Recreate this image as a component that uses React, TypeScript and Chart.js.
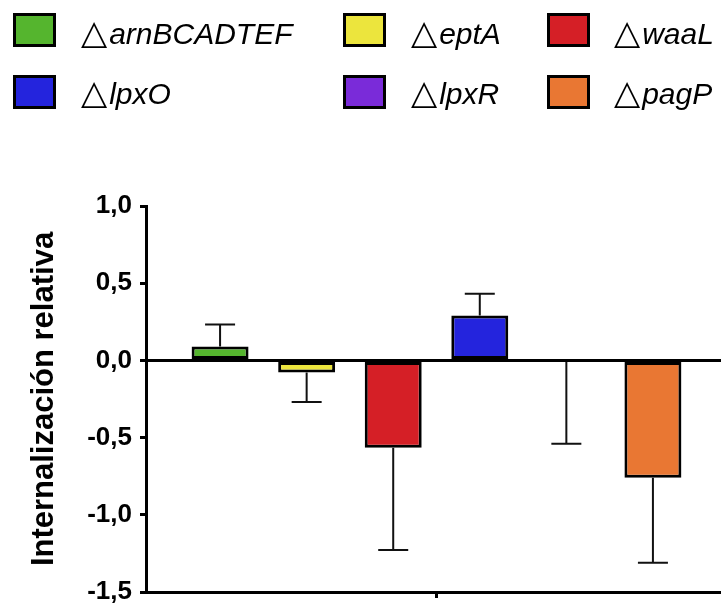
import React, { useEffect, useRef } from 'react';
import { Chart, registerables } from 'chart.js';

Chart.register(...registerables);

// ---- data ----
const categories = [''];
const strains = ['arnBCADTEF', 'eptA', 'waaL', 'lpxO', 'lpxR', 'pagP'];
const means = [0.09, -0.078, -0.565, 0.29, -0.01, -0.76];
const errors = [0.143, 0.192, 0.663, 0.141, 0.53, 0.55];
const colors = ['#55b52e', '#ece53d', '#d51f26', '#2424dd', '#7a2bd9', '#e97733'];
const yMin = -1.5;
const yMax = 1.0;
const yStep = 0.5;
const yTitle = 'Internalización relativa';

const FONT = '"Liberation Sans", Arial, Helvetica, sans-serif';

const fmt = (v: number) => {
  const n = Math.abs(v) < 1e-9 ? 0 : v;
  return n.toFixed(1).replace('.', ',');
};

const errorBarPlugin = {
  id: 'errorBars',
  afterDatasetsDraw(chart: any) {
    const ctx = chart.ctx;
    const y = chart.scales.y;
    ctx.save();
    ctx.strokeStyle = '#111';
    ctx.lineWidth = 2;
    chart.data.datasets.forEach((ds: any, i: number) => {
      const meta = chart.getDatasetMeta(i);
      const el = meta.data[0];
      if (!el) return;
      const m = means[i];
      const e = errors[i];
      const end = m >= 0 ? m + e : m - e;
      const y0 = y.getPixelForValue(m);
      const y1 = y.getPixelForValue(end);
      const x = el.x;
      ctx.beginPath();
      ctx.moveTo(x, y0);
      ctx.lineTo(x, y1);
      ctx.moveTo(x - 15, y1);
      ctx.lineTo(x + 15, y1);
      ctx.stroke();
    });
    ctx.restore();
  },
};

const legendCols = [
  { box: 13, text: 81 },
  { box: 343, text: 411 },
  { box: 547, text: 614 },
];
const legendRows = [
  { box: 13, text: 15 },
  { box: 75, text: 75 },
];

const CANVAS_H = 680;

export default function App() {
  const ref = useRef<HTMLCanvasElement | null>(null);

  useEffect(() => {
    if (!ref.current) return;
    const chart = new Chart(ref.current, {
      type: 'bar',
      data: {
        labels: categories,
        datasets: strains.map((s, i) => ({
          label: s,
          data: [means[i]],
          backgroundColor: colors[i],
          borderColor: '#000',
          borderWidth: 3,
          borderSkipped: false,
          categoryPercentage: 0.894,
          barPercentage: 0.658,
        })),
      },
      options: {
        responsive: false,
        animation: false,
        devicePixelRatio: 1,
        layout: { padding: { top: 206, left: 0, right: 13, bottom: CANVAS_H - 592 - 13 } },
        plugins: {
          legend: { display: false },
          tooltip: { enabled: false },
        },
        scales: {
          x: {
            offset: true,
            grid: {
              offset: false,
              drawOnChartArea: false,
              drawTicks: true,
              tickLength: 6,
              tickWidth: 3,
              tickColor: '#000',
            },
            border: { display: true, color: '#000', width: 3 },
            ticks: { display: false },
            afterFit(axis: any) {
              axis.height = 13;
            },
          },
          y: {
            min: yMin,
            max: yMax,
            ticks: {
              stepSize: yStep,
              color: '#000',
              padding: 8,
              font: { family: FONT, size: 26, weight: 'bold' },
              callback: (v: any) => fmt(Number(v)),
            },
            grid: {
              drawOnChartArea: true,
              drawTicks: true,
              tickLength: 6,
              tickWidth: 3,
              tickColor: '#000',
              lineWidth: 3,
              color: (c: any) => (c.tick && Math.abs(c.tick.value) < 1e-9 ? '#000' : 'rgba(0,0,0,0)'),
            },
            border: { display: true, color: '#000', width: 3 },
            title: {
              display: true,
              text: yTitle,
              color: '#000',
              font: { family: FONT, size: 31, weight: 'bold' },
              padding: { top: 26, bottom: 0 },
            },
            afterFit(axis: any) {
              axis.width = 146;
            },
          },
        },
      },
      plugins: [errorBarPlugin],
    });
    return () => chart.destroy();
  }, []);

  return (
    <div
      style={{
        position: 'fixed',
        left: 0,
        top: 0,
        width: 721,
        height: 605,
        overflow: 'hidden',
        background: '#fff',
      }}
    >
      <canvas ref={ref} width={740} height={CANVAS_H} style={{ position: 'absolute', left: 0, top: 0 }} />
      {strains.map((s, i) => {
        const col = legendCols[i % 3];
        const row = legendRows[Math.floor(i / 3)];
        return (
          <React.Fragment key={s}>
            <div
              style={{
                position: 'absolute',
                left: col.box,
                top: row.box,
                width: 43,
                height: 34,
                boxSizing: 'border-box',
                border: '3px solid #000',
                background: colors[i],
              }}
            />
            <div
              style={{
                position: 'absolute',
                left: col.text,
                top: row.text,
                fontFamily: FONT,
                fontStyle: 'italic',
                fontSize: 30,
                lineHeight: '34px',
                whiteSpace: 'nowrap',
                color: '#000',
              }}
            >
              <span
                style={{
                  fontStyle: 'normal',
                  fontFamily: '"DejaVu Sans", sans-serif',
                  fontSize: 34,
                  marginRight: 2,
                }}
              >
                △
              </span>
              {s}
            </div>
          </React.Fragment>
        );
      })}
    </div>
  );
}
